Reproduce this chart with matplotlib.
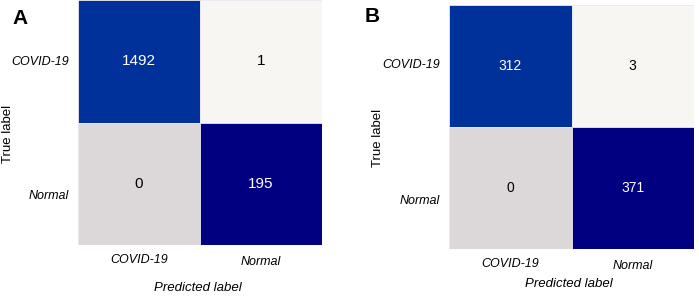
import matplotlib.pyplot as plt
import matplotlib.transforms as mtransforms
import numpy as np

# confusion matrices
labels = ['COVID-19', 'Normal']
cm_a = [[1492, 1],
        [0, 195]]
cm_b = [[312, 3],
        [0, 371]]

# cell colours (not a monotone colormap in the original)
cell_colors = [['#00309a', '#f8f6f2'],
               ['#dcd8da', '#000080']]
text_colors = [['white', 'black'],
               ['black', 'white']]

plt.rcParams['font.family'] = ['Liberation Sans', 'DejaVu Sans']

fig = plt.figure(figsize=(6.99, 2.96), dpi=100)
W, H = 699, 296


def shift(artist, dx_px, dy_px):
    # nudge a text by pixels (figure dpi = 100)
    off = mtransforms.ScaledTranslation(dx_px / 100, dy_px / 100, fig.dpi_scale_trans)
    artist.set_transform(artist.get_transform() + off)


def draw_cm(rect, cm, letter, letter_xy, num_size, ylab_x, xlab_y, yshifts):
    ax = fig.add_axes([rect[0] / W, 1 - (rect[1] + rect[3]) / H, rect[2] / W, rect[3] / H])
    cm = np.array(cm)
    n = cm.shape[0]
    for i in range(n):
        for j in range(n):
            ax.add_patch(plt.Rectangle((j, i), 1, 1, facecolor=cell_colors[i][j],
                                       edgecolor='#e8e8ee', linewidth=0.6))
            ax.text(j + 0.5, i + 0.5, str(cm[i, j]), ha='center', va='center',
                    fontsize=num_size, color=text_colors[i][j])
    ax.set_xlim(0, n)
    ax.set_ylim(n, 0)
    ax.set_xticks(np.arange(n) + 0.5)
    ax.set_yticks(np.arange(n) + 0.5)
    ax.set_xticklabels(labels, fontstyle='italic', fontsize=9)
    ax.set_yticklabels(labels, fontstyle='italic', fontsize=9)
    ax.tick_params(length=0, pad=6.5)
    for lab, dy in zip(ax.get_yticklabels(), yshifts):
        shift(lab, 0, dy)
    xt = ax.get_xticklabels()
    shift(xt[1], 0, -2)
    for s in ax.spines.values():
        s.set_visible(False)
    ax.set_xlabel('Predicted label', fontstyle='italic', fontsize=9.5)
    ax.xaxis.set_label_coords(0.49, xlab_y)
    ax.set_ylabel('True label', fontsize=9.5)
    ax.yaxis.set_label_coords(ylab_x, 0.455)
    fig.text(letter_xy[0] / W, 1 - letter_xy[1] / H, letter, fontsize=15,
             fontweight='bold', ha='center', va='center')
    return ax


draw_cm((78, 0, 244, 245), cm_a, 'A', (20, 19), 11, -0.262, -0.151, (1, -11))
draw_cm((449, 5, 245, 244), cm_b, 'B', (372, 17), 10, -0.265, -0.119, (3, -12))

fig.savefig('out.png', dpi=100)
